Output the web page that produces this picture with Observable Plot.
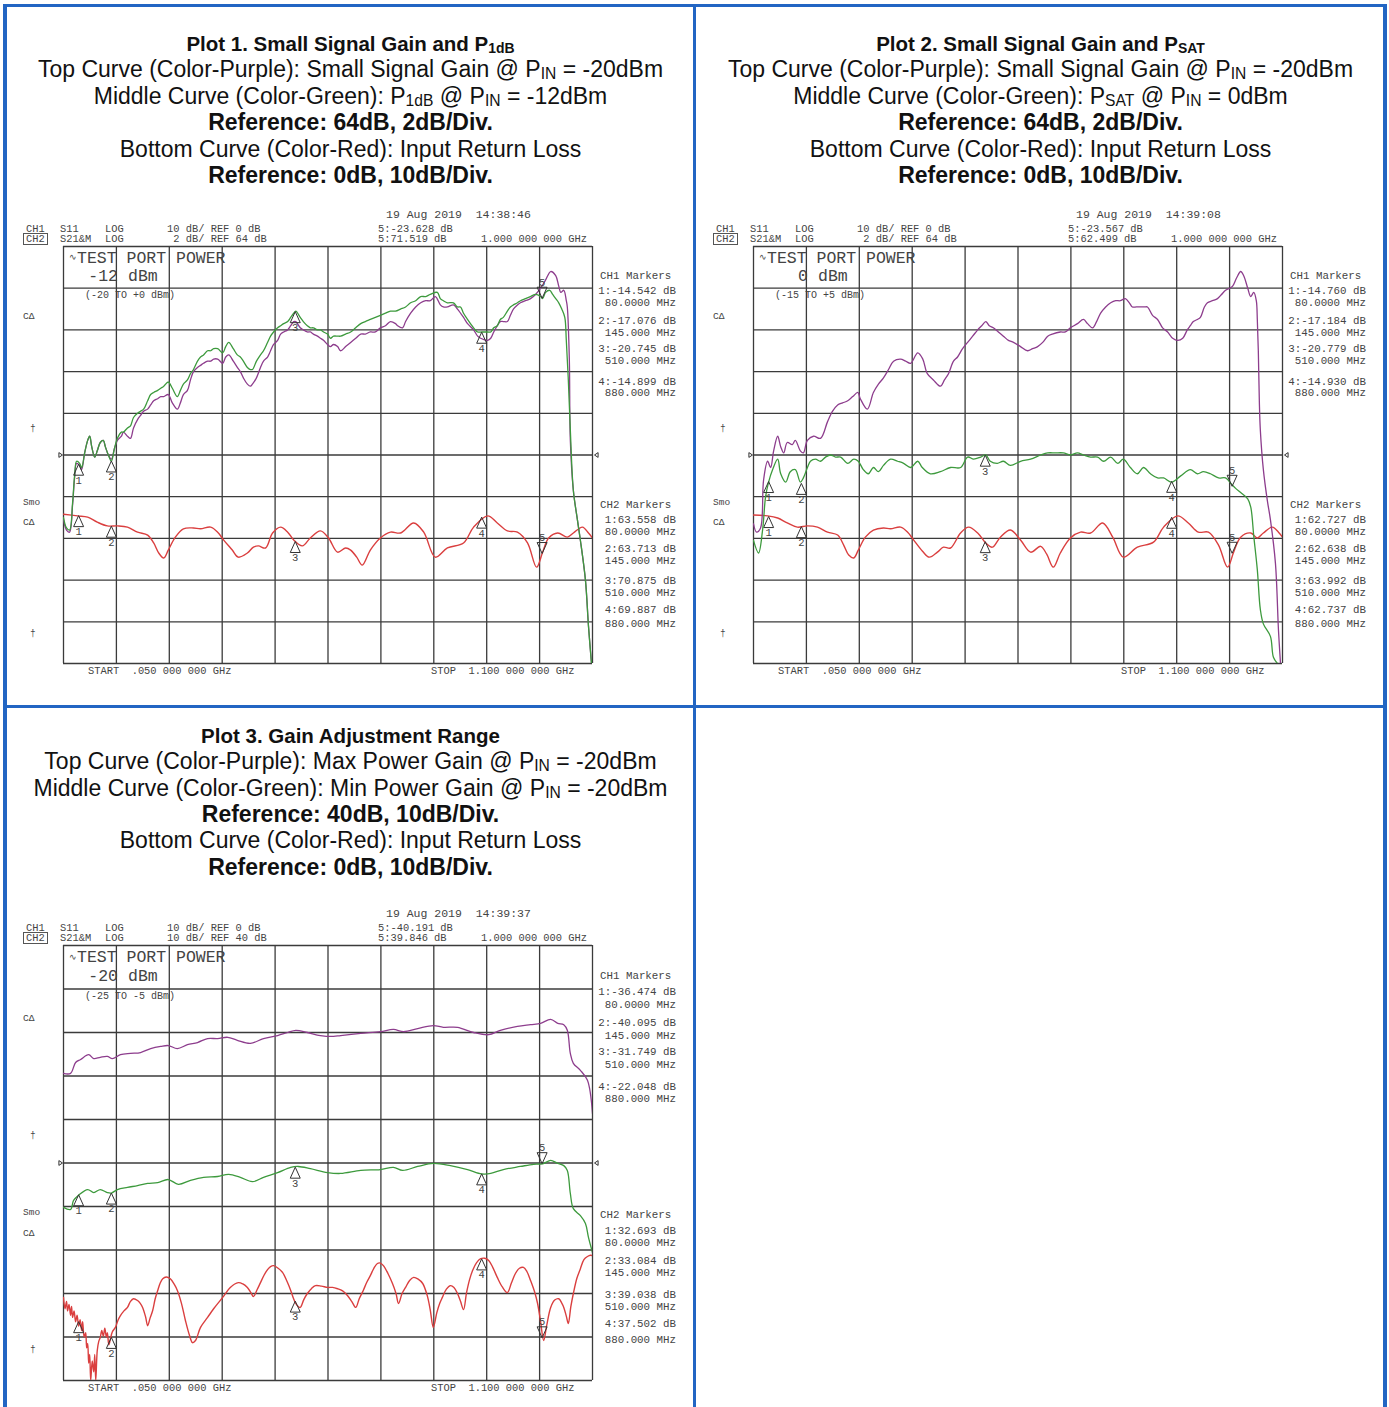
<!DOCTYPE html>
<html><head><meta charset="utf-8">
<script src="https://cdn.jsdelivr.net/npm/d3@7"></script>
<script src="https://cdn.jsdelivr.net/npm/@observablehq/plot@0.6"></script>
<style>
body{margin:0;background:#fff}
#page{position:relative;width:1389px;height:1407px;overflow:hidden;background:#fff}
.sub{font-size:0.68em;position:relative;top:0.14em}
</style></head><body><div id="page"></div>
<script>
// ---------- data (frequency MHz, level dB) ----------
const startMHz = 50, stopMHz = 1100;
const markerMHz = [80, 145, 510, 880, 1000];

const p1Purple = [[50,60.9],[56,60.4],[62,60.3],[68,61.6],[72,62.9],[76,63.6],[82,63.5],[86,63.3],[92,64.1],[98,64.7],[102,64.9],[106,64.4],[112,63.9],[117,64.2],[123,64.6],[129,64.7],[133,64.4],[139,64.0],[145,63.8],[151,64.3],[157,64.7],[165,64.9],[169,65.1],[177,64.9],[183,64.8],[189,65.3],[197,65.7],[203,65.9],[209,66.1],[217,66.2],[223,66.4],[229,66.6],[237,66.7],[243,66.8],[249,66.8],[258,66.9],[266,66.5],[276,66.2],[282,66.5],[288,66.9],[296,67.1],[302,67.6],[308,68.0],[316,68.2],[322,68.3],[328,68.4],[336,68.5],[342,68.5],[348,68.6],[356,68.6],[366,68.4],[372,68.7],[378,68.8],[387,68.5],[395,68.2],[401,68.0],[407,67.7],[415,67.4],[421,67.3],[425,67.4],[433,67.7],[441,68.2],[447,68.5],[455,68.7],[461,69.0],[467,69.3],[475,69.5],[481,69.8],[487,69.9],[495,70.0],[501,70.2],[507,70.4],[511,70.4],[520,70.1],[526,70.0],[534,69.9],[540,69.9],[546,69.8],[554,69.7],[560,69.6],[566,69.5],[574,69.3],[580,69.2],[586,69.3],[594,69.2],[600,69.0],[610,69.2],[620,69.4],[630,69.6],[640,69.8],[649,69.8],[659,69.9],[669,69.9],[679,70.1],[689,70.2],[699,70.4],[709,70.3],[713,70.2],[723,70.1],[729,70.4],[739,70.8],[749,71.1],[759,71.3],[769,71.4],[778,71.4],[788,71.6],[798,71.2],[804,71.1],[812,71.1],[824,71.2],[832,71.0],[844,70.6],[852,70.3],[864,70.0],[872,69.7],[878,69.6],[892,69.5],[898,69.6],[904,69.9],[911,70.2],[917,70.4],[923,70.4],[931,70.4],[937,70.7],[943,71.0],[951,71.2],[957,71.3],[967,71.4],[977,71.5],[987,71.7],[997,72.0],[1007,72.4],[1017,72.8],[1027,72.6],[1033,72.1],[1037,71.8],[1043,71.9],[1048,71.4],[1050,71.1],[1054,68.6],[1056,64.7],[1062,62.3],[1070,60.9],[1076,59.9],[1086,58.0],[1092,55.8],[1098,54.0]];
const p1Green = [[50,61.0],[56,60.5],[62,60.4],[68,61.7],[72,63.0],[76,63.7],[82,63.6],[86,63.4],[92,64.1],[98,64.7],[102,64.9],[106,64.4],[112,63.9],[117,64.2],[123,64.6],[129,64.7],[133,64.4],[139,64.0],[145,63.7],[151,64.3],[157,64.8],[165,65.1],[169,65.1],[177,65.3],[183,65.4],[189,65.8],[197,66.0],[203,66.1],[209,66.2],[217,66.6],[223,66.9],[229,67.0],[237,67.1],[243,67.2],[249,67.3],[258,67.5],[266,67.2],[276,66.8],[282,67.1],[288,67.4],[296,67.6],[302,67.9],[308,68.1],[316,68.5],[322,68.7],[328,68.8],[336,69.0],[342,69.0],[348,69.1],[356,69.1],[366,68.9],[372,69.2],[378,69.4],[387,69.1],[395,68.8],[401,68.7],[407,68.5],[415,68.2],[421,68.1],[425,68.1],[433,68.5],[441,68.8],[447,69.0],[455,69.4],[461,69.7],[467,69.9],[475,70.1],[481,70.2],[487,70.3],[495,70.4],[501,70.6],[507,70.8],[511,70.9],[520,70.6],[526,70.4],[534,70.2],[540,70.1],[546,70.1],[554,70.0],[560,70.0],[566,69.9],[574,69.8],[580,69.6],[586,69.7],[594,69.7],[600,69.7],[610,69.8],[620,69.9],[630,70.1],[640,70.3],[649,70.4],[659,70.5],[669,70.6],[679,70.7],[689,70.8],[699,70.9],[709,70.9],[719,71.0],[729,71.1],[739,71.3],[749,71.4],[759,71.6],[769,71.6],[778,71.7],[792,71.8],[798,71.5],[804,71.4],[812,71.3],[824,71.3],[832,71.1],[838,71.1],[844,70.8],[852,70.5],[864,70.1],[872,69.9],[880,69.9],[892,69.9],[898,69.9],[904,70.1],[911,70.2],[917,70.5],[923,70.6],[931,70.9],[937,71.1],[943,71.2],[951,71.3],[957,71.4],[967,71.5],[977,71.6],[987,71.7],[997,71.6],[1001,71.5],[1007,71.8],[1015,71.9],[1021,71.7],[1027,71.5],[1033,71.3],[1039,71.0],[1045,70.6],[1048,69.5],[1052,67.6],[1056,65.2],[1062,62.3],[1070,60.9],[1076,59.9],[1086,58.0],[1092,55.8],[1098,54.0]];
const p1Red = [[50,-14.2],[78,-14.6],[98,-14.9],[117,-16.1],[137,-17.0],[157,-17.0],[177,-17.3],[197,-18.5],[217,-19.2],[229,-21.1],[239,-23.5],[249,-24.7],[258,-22.8],[272,-19.7],[288,-17.7],[308,-17.5],[322,-17.7],[342,-17.3],[356,-18.5],[368,-20.4],[385,-22.8],[397,-24.5],[415,-23.5],[427,-22.1],[437,-21.8],[451,-22.3],[465,-18.7],[481,-17.3],[495,-18.5],[507,-20.4],[524,-21.8],[540,-19.9],[560,-18.2],[576,-19.9],[594,-23.3],[610,-22.3],[620,-22.8],[632,-24.5],[643,-26.4],[659,-22.8],[679,-19.9],[699,-18.5],[719,-18.7],[745,-16.3],[765,-18.5],[788,-24.5],[812,-22.3],[844,-21.1],[864,-17.3],[892,-14.6],[911,-16.3],[931,-18.2],[951,-18.5],[971,-21.1],[989,-26.9],[1001,-23.3],[1013,-19.9],[1031,-18.7],[1050,-19.7],[1062,-18.7],[1080,-17.3],[1092,-18.7],[1100,-19.9]];

const p2Purple = [[50,60.7],[56,60.3],[64,60.5],[70,62.8],[78,63.7],[84,63.4],[90,64.2],[98,64.9],[104,64.4],[110,64.1],[117,64.6],[127,64.5],[133,64.7],[143,64.2],[149,64.1],[157,64.7],[169,64.9],[183,64.8],[197,65.6],[207,66.1],[217,66.4],[227,66.5],[237,66.6],[247,66.8],[257,67.0],[262,66.7],[276,66.2],[288,67.0],[298,67.4],[308,67.7],[318,68.1],[328,68.5],[342,68.6],[352,68.5],[362,68.4],[376,68.9],[386,68.6],[395,67.9],[407,67.6],[421,67.3],[429,67.6],[437,67.9],[447,68.5],[455,68.7],[465,69.1],[475,69.4],[485,69.7],[495,70.0],[503,70.2],[511,70.4],[518,70.2],[526,70.1],[536,69.9],[546,69.7],[556,69.5],[566,69.4],[580,69.2],[594,69.0],[604,69.1],[614,69.2],[624,69.4],[634,69.7],[643,69.8],[659,69.9],[669,69.9],[679,70.1],[693,70.3],[705,70.5],[713,70.3],[723,70.1],[731,70.4],[739,70.8],[749,71.1],[759,71.3],[769,71.4],[778,71.4],[788,71.5],[796,71.3],[802,71.1],[810,71.1],[818,71.1],[826,71.1],[832,71.1],[842,70.7],[852,70.5],[862,70.1],[872,69.9],[882,69.6],[892,69.5],[902,69.6],[911,70.0],[917,70.2],[923,70.4],[931,70.5],[937,70.6],[945,71.1],[951,71.3],[961,71.4],[971,71.5],[979,71.7],[987,71.9],[995,72.0],[1001,72.1],[1009,72.5],[1017,72.8],[1023,72.6],[1031,72.0],[1037,71.6],[1043,71.8],[1048,71.4],[1050,70.5],[1052,69.0],[1054,66.6],[1056,65.2],[1062,63.3],[1070,61.8],[1076,60.9],[1086,58.8],[1092,55.6],[1096,54.0]];
const p2Green = [[50,59.9],[60,59.3],[68,60.4],[74,62.0],[80,62.7],[88,63.3],[98,63.8],[104,63.1],[114,62.7],[123,63.2],[133,63.3],[143,62.7],[149,62.9],[157,63.4],[163,63.7],[173,63.8],[183,63.7],[193,63.9],[203,64.0],[213,63.9],[223,63.9],[237,63.6],[249,63.8],[258,63.7],[268,63.3],[278,63.1],[288,63.4],[298,63.2],[308,63.5],[322,63.8],[336,63.7],[348,63.6],[362,63.4],[376,63.7],[385,63.4],[401,63.1],[421,63.2],[441,63.4],[461,63.4],[475,63.9],[487,63.8],[501,63.9],[511,64.0],[520,63.7],[534,63.6],[546,63.7],[560,63.5],[580,63.7],[600,63.8],[620,64.0],[634,64.1],[649,64.1],[665,64.1],[679,64.0],[693,64.1],[705,64.0],[719,63.9],[733,63.9],[745,63.7],[759,63.9],[773,63.6],[784,63.8],[798,63.4],[812,63.1],[824,63.4],[838,63.1],[852,62.9],[864,62.9],[880,62.7],[898,63.0],[917,63.3],[931,63.1],[943,63.2],[957,63.1],[973,62.9],[987,62.9],[999,62.6],[1007,62.4],[1017,62.2],[1031,61.9],[1037,61.5],[1043,60.1],[1050,58.5],[1056,56.6],[1062,55.9],[1076,55.3],[1082,54.3],[1090,54.0]];
const p2Red = [[50,-14.4],[78,-14.6],[98,-15.1],[117,-16.3],[137,-17.3],[157,-17.0],[177,-17.3],[197,-18.5],[217,-19.2],[229,-21.6],[239,-24.0],[249,-24.7],[258,-22.8],[272,-19.7],[288,-18.0],[308,-17.5],[322,-17.7],[342,-17.3],[356,-18.5],[368,-20.4],[385,-23.0],[399,-24.5],[415,-23.3],[427,-22.1],[441,-22.3],[461,-18.7],[477,-17.3],[495,-18.7],[511,-21.1],[524,-22.1],[540,-19.7],[560,-18.0],[580,-20.4],[600,-23.3],[620,-21.9],[632,-23.8],[645,-26.9],[659,-23.5],[679,-19.9],[699,-18.5],[719,-18.7],[743,-16.3],[763,-19.7],[784,-24.5],[812,-22.1],[844,-20.9],[864,-17.3],[892,-14.6],[913,-16.3],[933,-18.5],[953,-18.5],[973,-21.6],[991,-26.9],[1003,-23.3],[1017,-19.7],[1037,-18.7],[1050,-19.9],[1062,-18.7],[1080,-17.3],[1092,-18.5],[1100,-19.7]];

const p3Purple = [[50,60.6],[64,60.6],[74,63.1],[84,63.8],[100,64.9],[110,64.0],[123,64.3],[137,64.5],[147,64.0],[163,64.9],[183,65.2],[203,65.4],[223,66.3],[243,66.8],[258,67.0],[276,66.3],[296,67.2],[316,67.7],[336,68.6],[356,68.6],[376,68.9],[395,68.2],[421,67.5],[447,68.6],[475,69.3],[495,70.0],[511,70.5],[534,70.0],[560,69.3],[586,69.1],[600,69.3],[640,69.8],[679,70.2],[705,70.7],[725,70.2],[753,70.9],[784,71.6],[804,71.2],[832,71.2],[864,70.0],[894,69.5],[917,70.5],[951,71.4],[977,71.8],[997,72.1],[1017,73.0],[1031,72.1],[1043,71.8],[1050,70.5],[1056,65.2],[1062,62.9],[1076,61.3],[1090,59.0],[1100,51.4]];
const p3Green = [[50,29.8],[64,29.3],[70,31.4],[80,32.6],[98,33.9],[110,33.2],[123,33.9],[137,33.2],[145,33.1],[157,33.9],[177,34.4],[197,34.8],[217,35.3],[237,35.5],[258,36.2],[278,35.1],[302,36.0],[328,36.7],[356,36.9],[378,37.4],[401,36.7],[425,35.7],[447,36.7],[475,37.8],[501,39.0],[516,39.2],[540,38.7],[574,37.8],[600,37.6],[640,38.3],[679,38.5],[705,39.0],[723,38.3],[753,39.2],[784,39.9],[818,39.4],[852,38.5],[880,37.5],[898,37.6],[923,38.5],[957,39.2],[983,39.7],[1001,39.8],[1017,40.6],[1031,39.9],[1043,39.4],[1050,38.3],[1056,33.0],[1062,29.5],[1076,27.9],[1086,26.1],[1092,22.9],[1100,19.4]];
const p3Red = [[50,-30.9],[53,-33.5],[56,-31.8],[58,-34.0],[61,-32.5],[64,-35.0],[66,-33.0],[68,-35.5],[71,-34.0],[74,-36.5],[77,-35.0],[80,-37.5],[83,-36.0],[86,-38.5],[88,-36.5],[91,-40.0],[94,-39.0],[96,-42.5],[98,-41.5],[100,-46.0],[102,-44.0],[104,-50.0],[107,-45.5],[110,-48.0],[112,-44.0],[114,-50.0],[117,-43.1],[120,-41.0],[123,-40.1],[126,-38.5],[129,-39.8],[132,-38.0],[135,-40.0],[137,-39.0],[140,-41.8],[143,-40.5],[147,-38.8],[153,-37.8],[158,-36.2],[163,-35.1],[170,-34.0],[177,-33.2],[183,-31.8],[189,-31.2],[197,-31.6],[202,-32.2],[207,-33.2],[213,-35.4],[217,-37.4],[222,-35.6],[227,-33.9],[232,-31.2],[237,-29.3],[242,-27.6],[247,-26.6],[254,-26.2],[262,-26.6],[270,-27.9],[276,-29.3],[284,-32.2],[292,-36.2],[300,-39.6],[306,-41.3],[312,-40.8],[322,-37.8],[336,-35.5],[348,-33.5],[366,-30.9],[381,-28.6],[397,-27.5],[406,-27.8],[415,-28.6],[422,-29.8],[427,-30.7],[434,-29.2],[441,-27.5],[448,-25.8],[455,-24.5],[461,-23.8],[467,-23.6],[476,-24.2],[485,-25.2],[494,-27.3],[501,-29.3],[506,-31.0],[511,-32.3],[516,-33.0],[520,-33.2],[527,-31.4],[534,-30.0],[542,-28.9],[550,-28.2],[562,-28.3],[574,-28.6],[584,-28.6],[594,-28.9],[604,-29.4],[614,-30.5],[622,-31.8],[630,-33.2],[637,-31.2],[645,-29.3],[652,-27.4],[659,-25.9],[666,-24.2],[673,-23.1],[679,-23.0],[685,-23.6],[694,-25.4],[703,-27.7],[710,-30.0],[715,-32.3],[722,-30.0],[729,-28.6],[737,-27.0],[745,-26.3],[754,-26.7],[763,-27.7],[772,-30.5],[778,-33.8],[784,-37.8],[791,-34.4],[797,-32.2],[802,-30.9],[810,-29.0],[818,-28.2],[825,-28.6],[832,-30.0],[838,-31.8],[844,-33.7],[850,-29.8],[856,-26.8],[862,-24.7],[870,-22.9],[878,-22.0],[886,-21.9],[894,-22.4],[902,-24.0],[911,-26.3],[921,-28.5],[931,-29.8],[939,-27.6],[947,-25.4],[955,-24.2],[963,-24.0],[970,-25.0],[977,-27.0],[985,-29.6],[991,-32.3],[997,-36.5],[1003,-40.8],[1009,-37.4],[1017,-33.2],[1025,-31.5],[1033,-31.2],[1039,-32.2],[1043,-33.2],[1048,-35.2],[1052,-36.9],[1057,-33.0],[1062,-30.0],[1069,-26.5],[1076,-24.3],[1083,-22.2],[1090,-21.5],[1096,-21.2],[1100,-21.3]];

const p1Ch1Markers = [-14.542, -17.076, -20.745, -14.899, -23.628];
const p1Ch2Markers = [63.558, 63.713, 70.875, 69.887, 71.519];
const p2Ch1Markers = [-14.760, -17.184, -20.779, -14.930, -23.567];
const p2Ch2Markers = [62.727, 62.638, 63.992, 62.737, 62.499];
const p3Ch1Markers = [-36.474, -40.095, -31.749, -22.048, -40.191];
const p3Ch2Markers = [32.693, 33.084, 39.038, 37.502, 39.846];

const sub = s => `<span class="sub">${s}</span>`;
const panels = [
  { ox: 0, gy: 246, gh: 417,
    titleY: [44, 69, 96, 122, 149, 175],
    titles: [`Plot 1. Small Signal Gain and P${sub("1dB")}`,
             `Top Curve (Color-Purple): Small Signal Gain @ P${sub("IN")} = -20dBm`,
             `Middle Curve (Color-Green): P${sub("1dB")} @ P${sub("IN")} = -12dBm`,
             `Reference: 64dB, 2dB/Div.`,
             `Bottom Curve (Color-Red): Input Return Loss`,
             `Reference: 0dB, 10dB/Div.`],
    ch1: {ref: 0, perDiv: 10}, ch2: {ref: 64, perDiv: 2},
    purple: p1Purple, green: p1Green, red: p1Red,
    m1: p1Ch1Markers, m2: p1Ch2Markers,
    time: "14:38:46", power: "-12", range: "(-20 TO +0 dBm)" },
  { ox: 690, gy: 246, gh: 417,
    titleY: [44, 69, 96, 122, 149, 175],
    titles: [`Plot 2. Small Signal Gain and P${sub("SAT")}`,
             `Top Curve (Color-Purple): Small Signal Gain @ P${sub("IN")} = -20dBm`,
             `Middle Curve (Color-Green): P${sub("SAT")} @ P${sub("IN")} = 0dBm`,
             `Reference: 64dB, 2dB/Div.`,
             `Bottom Curve (Color-Red): Input Return Loss`,
             `Reference: 0dB, 10dB/Div.`],
    ch1: {ref: 0, perDiv: 10}, ch2: {ref: 64, perDiv: 2},
    purple: p2Purple, green: p2Green, red: p2Red,
    m1: p2Ch1Markers, m2: p2Ch2Markers,
    time: "14:39:08", power: "0", range: "(-15 TO +5 dBm)" },
  { ox: 0, gy: 945, gh: 435,
    titleY: [736, 761, 788, 814, 840, 867],
    titles: [`Plot 3. Gain Adjustment Range`,
             `Top Curve (Color-Purple): Max Power Gain @ P${sub("IN")} = -20dBm`,
             `Middle Curve (Color-Green): Min Power Gain @ P${sub("IN")} = -20dBm`,
             `Reference: 40dB, 10dB/Div.`,
             `Bottom Curve (Color-Red): Input Return Loss`,
             `Reference: 0dB, 10dB/Div.`],
    ch1: {ref: 0, perDiv: 10}, ch2: {ref: 40, perDiv: 10},
    purple: p3Purple, green: p3Green, red: p3Red,
    m1: p3Ch1Markers, m2: p3Ch2Markers,
    time: "14:39:37", power: "-20", range: "(-25 TO -5 dBm)" }
];

// ---------- styles ----------
const BLUE = "#2265c3", PURPLE = "#8d3d8d", GREEN = "#3d9a3d", RED = "#da3f3f", GRID = "#3b3b3b", INK = "#444";
const MONO = '"Liberation Mono", "DejaVu Sans Mono", monospace';
const SANS = '"Liberation Sans", Arial, sans-serif';
const GX = 63, GW = 529;
const page = document.getElementById("page");

function addText(x, y, str, {size = 10.4, family = MONO, color = INK, weight = "normal", anchor = "start", html = false} = {}) {
  const el = document.createElement("div");
  Object.assign(el.style, {position: "absolute", whiteSpace: "pre", left: x + "px",
    top: (y - size * 0.5) + "px", lineHeight: size + "px", fontSize: size + "px",
    fontFamily: family, color, fontWeight: weight});
  if (anchor === "middle") el.style.transform = "translateX(-50%)";
  if (anchor === "end") el.style.transform = "translateX(-100%)";
  if (html) el.innerHTML = str; else el.textContent = str;
  page.appendChild(el);
  return el;
}
function addBox(x, y, w, h, bg, border) {
  const el = document.createElement("div");
  Object.assign(el.style, {position: "absolute", left: x + "px", top: y + "px", width: w + "px", height: h + "px", boxSizing: "border-box"});
  if (bg) el.style.background = bg;
  if (border) el.style.border = border;
  page.appendChild(el);
}

// panel borders
addBox(3, 4, 1384, 3, BLUE);
addBox(3, 4, 4, 1403, BLUE);
addBox(693, 4, 3, 1403, BLUE);
addBox(1383, 4, 4, 1403, BLUE);
addBox(3, 705, 1384, 3, BLUE);

// ---------- marker symbols ----------
const triUp = {draw(c, s) { const r = Math.sqrt(s / Math.PI); c.moveTo(0, 0); c.lineTo(-1.25 * r, 2.75 * r); c.lineTo(1.25 * r, 2.75 * r); c.closePath(); }};
const triDown = {draw(c, s) { const r = Math.sqrt(s / Math.PI); c.moveTo(0, 0); c.lineTo(-1.25 * r, -2.75 * r); c.lineTo(1.25 * r, -2.75 * r); c.closePath(); }};
const triRight = {draw(c, s) { const r = Math.sqrt(s / Math.PI); c.moveTo(0, 0); c.lineTo(-1.5 * r, -r); c.lineTo(-1.5 * r, r); c.closePath(); }};
const triLeft = {draw(c, s) { const r = Math.sqrt(s / Math.PI); c.moveTo(0, 0); c.lineTo(1.5 * r, -r); c.lineTo(1.5 * r, r); c.closePath(); }};

function markerMarks(values) {
  const recs = markerMHz.map((f, i) => ({f, v: values[i], n: String(i + 1)}));
  const up = recs.slice(0, 4), down = recs.slice(4);
  return [
    Plot.dot(up, {x: "f", y: "v", symbol: triUp, r: 4, fill: "none", stroke: "#333", strokeWidth: 1}),
    Plot.dot(down, {x: "f", y: "v", symbol: triDown, r: 4, fill: "none", stroke: "#333", strokeWidth: 1}),
    Plot.text(up, {x: "f", y: "v", text: "n", dy: 16, fontSize: 10.5, fontFamily: MONO, fill: INK}),
    Plot.text(down, {x: "f", y: "v", text: "n", dy: -16, fontSize: 10.5, fontFamily: MONO, fill: INK})
  ];
}

function layer(p, yDomain, marks) {
  const pad = 30;
  const svg = Plot.plot({
    width: GW + 2 * pad, height: p.gh + 2 * pad,
    marginTop: pad, marginBottom: pad, marginLeft: pad, marginRight: pad,
    x: {domain: [startMHz, stopMHz], axis: null},
    y: {domain: yDomain, axis: null},
    style: {background: "none", overflow: "visible"},
    marks
  });
  Object.assign(svg.style, {position: "absolute", left: (p.ox + GX - pad) + "px", top: (p.gy - pad) + "px"});
  page.appendChild(svg);
}

const fmtMHz = d3.format(".6r");
for (const p of panels) {
  const ox = p.ox, gy = p.gy, div = p.gh / 10;
  // titles
  p.titles.forEach((t, i) => {
    const bold = i === 0 || i === 3 || i === 5;
    addText(ox + 350.5, p.titleY[i], t, {size: i === 0 ? 20.5 : 23, family: SANS, color: "#111", weight: bold ? "bold" : "normal", anchor: "middle", html: true});
  });
  // scales
  const d1 = [p.ch1.ref - 5 * p.ch1.perDiv, p.ch1.ref + 5 * p.ch1.perDiv];
  const d2 = [p.ch2.ref - 5 * p.ch2.perDiv, p.ch2.ref + 5 * p.ch2.perDiv];
  const xTicks = d3.range(11).map(i => startMHz + i * (stopMHz - startMHz) / 10);
  const yTicks = d3.range(11).map(i => d1[0] + i * p.ch1.perDiv);
  layer(p, d1, [
    Plot.ruleX(xTicks, {stroke: GRID, strokeWidth: 1.3}),
    Plot.ruleY(yTicks, {stroke: GRID, strokeWidth: 1.3}),
    Plot.line(p.red, {x: d => d[0], y: d => d[1], stroke: RED, strokeWidth: 1.4, curve: "catmull-rom", clip: true}),
    ...markerMarks(p.m1)
  ]);
  layer(p, d2, [
    Plot.line(p.purple, {x: d => d[0], y: d => d[1], stroke: PURPLE, strokeWidth: 1.3, curve: "catmull-rom", clip: true}),
    Plot.line(p.green, {x: d => d[0], y: d => d[1], stroke: GREEN, strokeWidth: 1.3, curve: "catmull-rom", clip: true}),
    Plot.dot([{x: startMHz, y: p.ch2.ref}], {x: "x", y: "y", symbol: triRight, r: 2.4, dx: -1, fill: "none", stroke: "#333", strokeWidth: 1}),
    Plot.dot([{x: stopMHz, y: p.ch2.ref}], {x: "x", y: "y", symbol: triLeft, r: 2.4, dx: 2, fill: "none", stroke: "#333", strokeWidth: 1}),
    ...markerMarks(p.m2)
  ]);
  // instrument header
  addText(ox + 386, gy - 31, `19 Aug 2019  ${p.time}`, {size: 11.5});
  addText(ox + 26, gy - 17, "CH1");
  addText(ox + 60, gy - 17, "S11");
  addText(ox + 105, gy - 17, "LOG");
  addText(ox + 167, gy - 17, `${String(p.ch1.perDiv).padStart(2)} dB/ REF ${p.ch1.ref} dB`);
  addText(ox + 26, gy - 7, "CH2");
  addBox(ox + 23, gy - 13, 25, 12, null, "1px solid #555");
  addText(ox + 60, gy - 7, "S21&M");
  addText(ox + 105, gy - 7, "LOG");
  addText(ox + 167, gy - 7, `${String(p.ch2.perDiv).padStart(2)} dB/ REF ${p.ch2.ref} dB`);
  addText(ox + 378, gy - 17, `5:${p.m1[4].toFixed(3)} dB`);
  addText(ox + 378, gy - 7, `5:${p.m2[4].toFixed(3)} dB`);
  addText(ox + 481, gy - 7, "1.000 000 000 GHz");
  // test port power box
  addText(ox + 69, gy + 0.31 * div, "\u223F", {size: 9});
  addText(ox + 77, gy + 0.31 * div, "TEST PORT POWER", {size: 16.5});
  addText(ox + 118, gy + 0.74 * div, p.power, {size: 16.5, anchor: "end"});
  addText(ox + 128, gy + 0.74 * div, "dBm", {size: 16.5});
  addText(ox + 85, gy + 1.2 * div, p.range, {size: 10});
  // left annunciators
  addText(ox + 23, gy + 1.7 * div, "C\u0394", {size: 9.5});
  addText(ox + 30, gy + 4.39 * div, "\u2020", {size: 9.5});
  addText(ox + 23, gy + 6.16 * div, "Smo", {size: 9.5});
  addText(ox + 23, gy + 6.64 * div, "C\u0394", {size: 9.5});
  addText(ox + 30, gy + 9.3 * div, "\u2020", {size: 9.5});
  // marker tables
  const rowY1 = [[1.10, 1.38], [1.80, 2.10], [2.47, 2.76], [3.27, 3.54]];
  const rowY2 = [[6.58, 6.87], [7.28, 7.56], [8.05, 8.34], [8.73, 9.08]];
  addText(ox + 600, gy + 0.72 * div, "CH1 Markers", {size: 10.8});
  addText(ox + 600, gy + 6.21 * div, "CH2 Markers", {size: 10.8});
  for (let i = 0; i < 4; i++) {
    addText(ox + 676, gy + rowY1[i][0] * div, `${i + 1}:${p.m1[i].toFixed(3)} dB`, {size: 10.8, anchor: "end"});
    addText(ox + 676, gy + rowY1[i][1] * div, `${fmtMHz(markerMHz[i])} MHz`, {size: 10.8, anchor: "end"});
    addText(ox + 676, gy + rowY2[i][0] * div, `${i + 1}:${p.m2[i].toFixed(3)} dB`, {size: 10.8, anchor: "end"});
    addText(ox + 676, gy + rowY2[i][1] * div, `${fmtMHz(markerMHz[i])} MHz`, {size: 10.8, anchor: "end"});
  }
  // sweep limits
  addText(ox + 88, gy + p.gh + 8, `START  .${String(startMHz).padStart(3, "0")} 000 000 GHz`, {size: 10.4});
  addText(ox + 431, gy + p.gh + 8, `STOP  ${(stopMHz / 1000).toFixed(3)} 000 000 GHz`, {size: 10.4});
}
</script></body></html>
